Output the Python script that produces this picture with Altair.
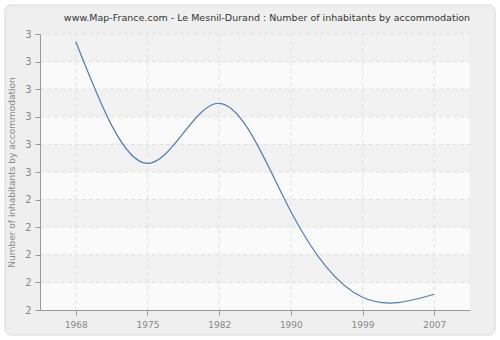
import altair as alt
import pandas as pd

years = ["1968", "1975", "1982", "1990", "1999", "2007"]
values = [2.972, 2.531, 2.749, 2.357, 2.046, 2.057]
y_ticks = [2.0, 2.1, 2.2, 2.3, 2.4, 2.5, 2.6, 2.7, 2.8, 2.9, 3.0]
band_lo = [2.0, 2.1, 2.2, 2.3, 2.4, 2.5, 2.6, 2.7, 2.8, 2.9]
band_hi = [2.1, 2.2, 2.3, 2.4, 2.5, 2.6, 2.7, 2.8, 2.9, 3.0]
band_kind = ["plain", "hatch", "plain", "hatch", "plain", "hatch", "plain", "hatch", "plain", "hatch"]

FONT = "DejaVu Sans"
df = pd.DataFrame({"year": years, "value": values})
bands = pd.DataFrame({"lo": band_lo, "hi": band_hi, "kind": band_kind})
hgrid = pd.DataFrame({"value": y_ticks[1:]})
vgrid = pd.DataFrame({"year": years})

yscale = alt.Scale(domain=[2, 3], nice=False, zero=False)
xscale = alt.Scale(type="point", padding=0.5, domain=years)

x_axis = alt.Axis(title=None, labelAngle=0, labelAlign="center", grid=False, zindex=1,
                  domainColor="#999999", tickColor="#999999", tickSize=5,
                  labelColor="#888888", labelFontSize=9, labelFont=FONT, labelPadding=5)
y_axis = alt.Axis(title="Number of inhabitants by accommodation", values=y_ticks, format=".0f",
                  grid=False, zindex=1, labelOverlap=False,
                  domainColor="#999999", tickColor="#999999", tickSize=5,
                  labelColor="#888888", labelFontSize=10, labelFont=FONT, labelPadding=4,
                  titleColor="#888888", titleFontSize=9, titleFont=FONT, titleFontWeight="normal",
                  titlePadding=8)

X = alt.X("year:O", scale=xscale, axis=x_axis)
Y = alt.Y("value:Q", scale=yscale, axis=y_axis)

panel = alt.Chart(pd.DataFrame({"a": [0]})).mark_rect(
    fill="#efefef", stroke="#d9d9d9", strokeWidth=1, cornerRadius=6, clip=False
).encode(
    x=alt.value(-35), x2=alt.value(455), y=alt.value(-29), y2=alt.value(301)
)

band_layer = alt.Chart(bands).mark_rect().encode(
    y=alt.Y("lo:Q", scale=yscale, axis=y_axis),
    y2="hi:Q",
    x=alt.value(0), x2=alt.value(430),
    color=alt.Color("kind:N", scale=alt.Scale(domain=["plain", "hatch"], range=["#fafafa", "#f2f2f2"]), legend=None),
)

hgrid_layer = alt.Chart(hgrid).mark_rule(color="#e0e0e0", strokeDash=[4, 3], strokeWidth=1).encode(
    y=Y, x=alt.value(0), x2=alt.value(430)
)
vgrid_layer = alt.Chart(vgrid).mark_rule(color="#e0e0e0", strokeDash=[4, 3], strokeWidth=1).encode(
    x=X, y=alt.value(0), y2=alt.value(276)
)

line = alt.Chart(df).mark_line(color="#4f7cb6", strokeWidth=1.2, interpolate="natural").encode(
    x=X, y=Y,
)

chart = alt.layer(panel, band_layer, hgrid_layer, vgrid_layer, line).properties(
    width=430, height=276,
    title=alt.TitleParams(
        "www.Map-France.com - Le Mesnil-Durand : Number of inhabitants by accommodation",
        font=FONT, fontSize=9.5, fontWeight="normal", color="#333333", anchor="middle", dx=12, offset=0,
        dy=18, frame="group",
    ),
    autosize=alt.AutoSizeParams(type="none"),
    padding={"left": 40, "top": 34, "right": 30, "bottom": 30},
    background="#ffffff",
).configure_view(stroke=None)

chart.save("out.html", embed_options={"renderer": "svg", "actions": False})
